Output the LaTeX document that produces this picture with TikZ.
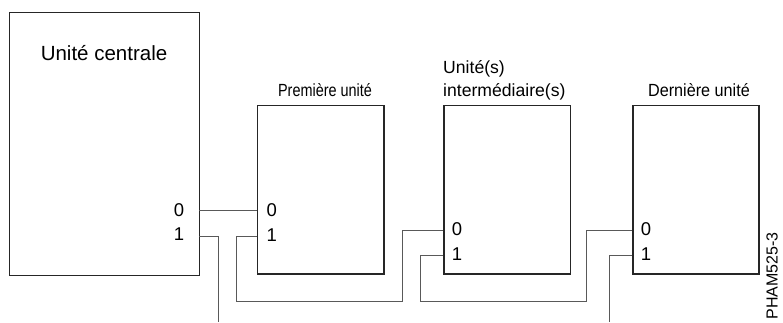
\documentclass[tikz,border=0pt]{standalone}
\usepackage{fontspec}
\setmainfont{Liberation Sans}

\tikzset{
	unit/.style={draw=black!85, line width=1.4pt, rectangle, anchor=north west, inner sep=0pt},
	wire/.style={line width=0.9pt, black!65},
	port/.style={anchor=base, inner sep=0pt, font=\fontsize{18.5}{20}\selectfont},
	title/.style={anchor=base, inner sep=0pt, font=\fontsize{17.6}{23}\selectfont},
}

\begin{document}
\begin{tikzpicture}[x=1pt,y=-1pt]
	\useasboundingbox (0,0) rectangle (783,322);
	% boxes
	\node [unit, minimum width=190pt, minimum height=263pt] (cpu) at (9,12) {};
	\node [unit, minimum width=126.6pt, minimum height=168.3pt] (first) at (256.7,105) {};
	\node [unit, minimum width=126.7pt, minimum height=168.3pt] (mid) at (443.3,105) {};
	\node [unit, minimum width=126pt, minimum height=168.3pt] (last) at (632.3,105) {};
	% titles
	\node [anchor=base, inner sep=0pt, font=\fontsize{20.5}{24}\selectfont] (cputitle) at (104,60) {Unité centrale};
	\node [title] (firsttitle) at (325,96) {\scalebox{0.82}[1]{Première unité}};
	\node [title, anchor=base west, align=left] (midtitle) at (443,96) {Unité(s)\\intermédiaire(s)};
	\node [title] (lasttitle) at (699,96) {\scalebox{0.92}[1]{Dernière unité}};
	% port numbers
	\node [port] (cpu0) at (179,216.7) {0};
	\node [port] (cpu1) at (179,240.7) {1};
	\node [port] (first0) at (271.7,216) {0};
	\node [port] (first1) at (271.7,241) {1};
	\node [port] (mid0) at (457,235) {0};
	\node [port] (mid1) at (457,260) {1};
	\node [port] (last0) at (646,235) {0};
	\node [port] (last1) at (646,260) {1};
	% cable ends
	\coordinate (cpu-p0) at (199,210.7);
	\coordinate (cpu-p1) at (199,236);
	\coordinate (first-p0) at (256.7,210.7);
	\coordinate (first-p1) at (256.7,236);
	\coordinate (mid-p0) at (443.3,230);
	\coordinate (mid-p1) at (443.3,255);
	\coordinate (last-p0) at (632.3,230);
	\coordinate (last-p1) at (632.3,255);
	\coordinate (cpu-out) at (218,322);
	\coordinate (last-out) at (609.3,322);
	% cables
	\draw [wire] (cpu-p0) -- (first-p0);
	\draw [wire] (cpu-p1) -| (cpu-out);
	\draw [wire] (first-p1) -- ++(-20,0) |- (402,301) |- (mid-p0);
	\draw [wire] (mid-p1) -- ++(-22.6,0) |- (586.7,301) |- (last-p0);
	\draw [wire] (last-p1) -| (last-out);
	\node [rotate=90, inner sep=0pt, font=\fontsize{16}{18}\selectfont] (figid) at (772,276) {PHAM525-3};
\end{tikzpicture}
\end{document}
